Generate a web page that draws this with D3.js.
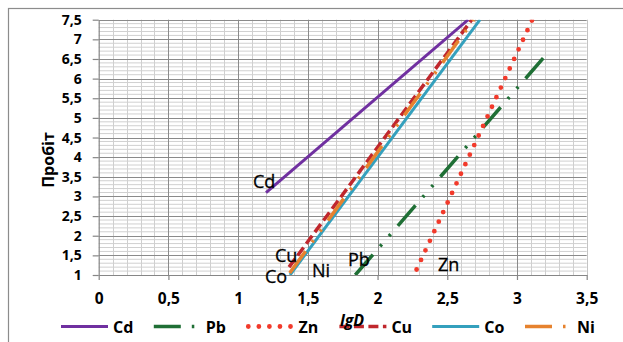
<!DOCTYPE html>
<html>
<head>
<meta charset="utf-8">
<script src="https://cdn.jsdelivr.net/npm/d3@7"></script>
<style>
  html, body { margin: 0; padding: 0; background: #fff; }
  svg { display: block; font-family: "Open Sans", "Noto Sans", sans-serif; }
</style>
</head>
<body>
<svg id="chart" width="623" height="342"></svg>
<script>
// Probit regression lines (lgD vs probit) for each metal
const metals = ["Cd", "Pb", "Zn", "Cu", "Co", "Ni"];
const lgD    = [[1.20, 2.65], [1.84, 3.19], [2.28, 3.11], [1.365, 2.676], [1.372, 2.735], [1.37, 2.69]];
const probit = [[3.10, 7.50], [1.00, 6.53], [1.14, 7.50], [1.20, 7.50], [1.00, 7.50], [1.05, 7.50]];

const xTicks = [0, 0.5, 1, 1.5, 2, 2.5, 3, 3.5];
const yTicks = [1, 1.5, 2, 2.5, 3, 3.5, 4, 4.5, 5, 5.5, 6, 6.5, 7, 7.5];
const xTitle = "lgD";
const yTitle = "Пробіт";

// Appearance of each series
const styles = {
  Cd: { color: "#7030a0", width: 3,   dash: null,                     cap: "butt" },
  Pb: { color: "#1f6f35", width: 3.5, dash: "27,11,2.5,11,2.5,11",    cap: "butt" },
  Zn: { color: "#f23a2b", width: 4.8, dash: "0,10.55",                cap: "round" },
  Cu: { color: "#c0272d", width: 3.5, dash: "10,4.5",                 cap: "butt" },
  Co: { color: "#34a0bd", width: 3,   dash: null,                     cap: "butt" },
  Ni: { color: "#e6822e", width: 3.5, dash: "27,11,2.5,11,2.5,11",    cap: "butt" }
};

// Series name labels drawn inside the plot (pixel anchors, text start / baseline)
const labelPos = {
  Cd: [253, 188], Cu: [275, 262], Co: [265, 283],
  Ni: [312, 277], Pb: [348, 266], Zn: [438, 271]
};

const svg = d3.select("#chart");
const fmt = d => String(d).replace(".", ",");

const x = d3.scaleLinear().domain([0, 3.5]).range([98.7, 586.7]);
const y = d3.scaleLinear().domain([1, 7.5]).range([275, 19.7]);

// Outer chart frame
svg.append("rect")
  .attr("x", 8.5).attr("y", 8.5).attr("width", 700).attr("height", 400)
  .attr("fill", "#fff").attr("stroke", "#8c8c8c").attr("stroke-width", 1.2);

const grid = svg.append("g");
const minorX = d3.range(0, 36).map(i => i / 10).filter(v => Math.round(v * 10) % 5 !== 0);
const minorY = d3.range(10, 76).map(i => i / 10).filter(v => Math.round(v * 10) % 5 !== 0);

grid.selectAll(".mx").data(minorX).join("line")
  .attr("x1", d => Math.round(x(d)) + 0.5).attr("x2", d => Math.round(x(d)) + 0.5)
  .attr("y1", y(7.5)).attr("y2", y(1))
  .attr("stroke", "#cfcfcf").attr("stroke-width", 1);
grid.selectAll(".my").data(minorY).join("line")
  .attr("y1", d => y(d)).attr("y2", d => y(d))
  .attr("x1", x(0)).attr("x2", x(3.5))
  .attr("stroke", "#d0d0d0").attr("stroke-width", 1);
grid.selectAll(".Mx").data(xTicks.slice(1)).join("line")
  .attr("x1", d => Math.round(x(d)) + 0.5).attr("x2", d => Math.round(x(d)) + 0.5)
  .attr("y1", y(7.5)).attr("y2", y(1))
  .attr("stroke", d => d === 3.5 ? "#c4c4c4" : "#8a8a8a").attr("stroke-width", 1);
grid.selectAll(".My").data(yTicks.slice(1)).join("line")
  .attr("y1", d => Math.round(y(d)) + 0.5).attr("y2", d => Math.round(y(d)) + 0.5)
  .attr("x1", x(0)).attr("x2", x(3.5))
  .attr("stroke", "#8a8a8a").attr("stroke-width", 1);

// Axes
const axisStyle = size => g => {
  g.selectAll(".domain").attr("stroke", "#868686").attr("stroke-width", 1.2);
  g.selectAll(".tick line").attr("stroke", "#868686").attr("stroke-width", 1.2);
  g.selectAll("text").attr("fill", "#000").attr("font-weight", "bold")
    .attr("font-size", size).attr("font-family", "'Open Sans', sans-serif");
};
svg.append("g").attr("transform", `translate(${x(0)},0)`)
  .call(d3.axisLeft(y).tickValues(yTicks).tickFormat(fmt).tickSize(6).tickSizeOuter(0).tickPadding(11))
  .call(axisStyle("14px"));
svg.append("g").attr("transform", `translate(0,${y(1)})`)
  .call(d3.axisBottom(x).tickValues(xTicks).tickFormat(fmt).tickSize(5).tickSizeOuter(0).tickPadding(13))
  .call(axisStyle("15.5px"));

// Axis titles
svg.append("text")
  .attr("transform", "translate(54,160) rotate(-90)")
  .attr("text-anchor", "middle").attr("font-weight", "bold").attr("font-size", "16px")
  .text(yTitle);

// Clip lines to the plot area
svg.append("clipPath").attr("id", "plotClip").append("rect")
  .attr("x", x(0)).attr("y", y(7.5)).attr("width", x(3.5) - x(0)).attr("height", y(1) - y(7.5));

const line = d3.line().x(d => x(d[0])).y(d => y(d[1]));
const seriesData = metals.map((m, i) => ({
  name: m,
  pts: lgD[i].map((v, j) => [v, probit[i][j]])
}));

svg.append("g").attr("clip-path", "url(#plotClip)")
  .selectAll("path").data(seriesData).join("path")
  .attr("d", d => line(d.pts))
  .attr("fill", "none")
  .attr("stroke", d => styles[d.name].color)
  .attr("stroke-width", d => styles[d.name].width)
  .attr("stroke-dasharray", d => styles[d.name].dash)
  .attr("stroke-linecap", d => styles[d.name].cap);

// Series labels
svg.append("g").selectAll("text").data(metals).join("text")
  .attr("x", d => labelPos[d][0]).attr("y", d => labelPos[d][1])
  .attr("font-size", "18px").attr("fill", "#000")
  .attr("stroke", "#000").attr("stroke-width", 0.3)
  .text(d => d);

// Legend
const legend = svg.append("g");
const legY = 326.5;
metals.forEach((m, i) => {
  const s = 61 + i * 92.8;
  const st = styles[m];
  const lx1 = m === "Zn" ? s + 1.7 : s;
  legend.append("line")
    .attr("x1", lx1).attr("x2", s + 47).attr("y1", legY).attr("y2", legY)
    .attr("stroke", st.color).attr("stroke-width", st.width)
    .attr("stroke-dasharray", st.dash).attr("stroke-linecap", st.cap);
  legend.append("text")
    .attr("x", s + 52).attr("y", legY + 6)
    .attr("font-size", "16px").attr("font-weight", "bold").attr("fill", "#000")
    .text(m);
});

// X axis title sits over the legend row
svg.append("text")
  .attr("x", 352).attr("y", 326)
  .attr("text-anchor", "middle").attr("font-weight", "bold").attr("font-style", "italic")
  .attr("font-size", "16px")
  .text(xTitle);
</script>
</body>
</html>
